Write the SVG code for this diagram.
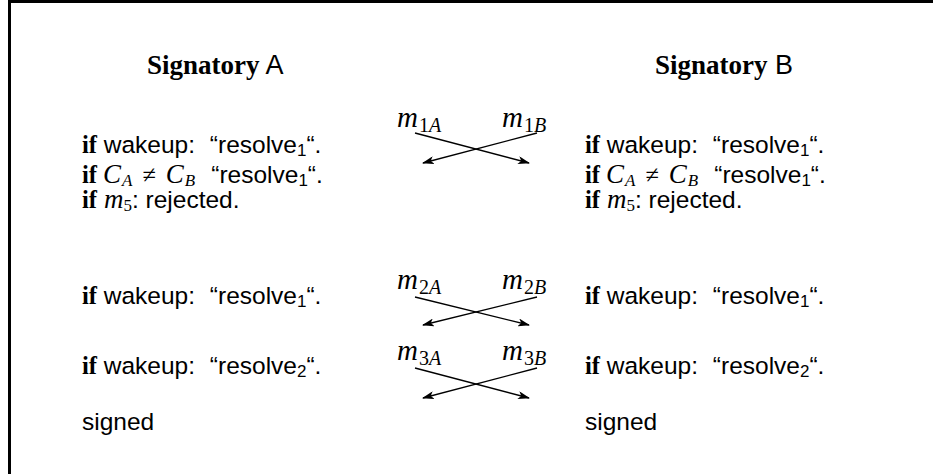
<svg xmlns="http://www.w3.org/2000/svg" width="933" height="474" viewBox="0 0 933 474">
<defs>
<style>
.t{font-family:"Liberation Sans","DejaVu Sans",sans-serif;font-size:24.5px;fill:#000}
.h{font-size:27px}
.kw{font-family:"Liberation Serif",serif;font-weight:bold}
.mi{font-family:"Liberation Serif",serif;font-style:italic;font-size:27px}
.rm{font-family:"Liberation Serif",serif;font-style:normal}
.sub{font-size:17px}
.ml{font-family:"Liberation Serif",serif;font-style:italic;font-size:29px;fill:#000}
.ms{font-size:20px}
.frame{fill:none;stroke:#000;stroke-width:3}
.conn line{stroke:#000;stroke-width:1.3;marker-end:url(#ah)}
</style>
<marker id="ah" viewBox="0 0 12 8" refX="11" refY="4" markerWidth="12" markerHeight="8" markerUnits="userSpaceOnUse" orient="auto">
<path d="M0,0 L12,4 L0,8 L3,4 Z" fill="#000"/>
</marker>
</defs>
<rect width="933" height="474" fill="#fff"/>
<path class="frame" d="M9.5,474 V1.5 H933"/>

<g id="signatoryA">
<text class="t h" x="147" y="74"><tspan class="kw">Signatory</tspan> A</text>
<text class="t" x="82" y="153"><tspan class="kw">if</tspan> wakeup:<tspan dx="8"> “resolve</tspan><tspan class="sub" dy="3">1</tspan><tspan dy="-3">“.</tspan></text>
<text class="t" x="82" y="183"><tspan class="kw">if</tspan><tspan class="mi" dx="6">C</tspan><tspan class="mi sub" dy="3" dx="1">A</tspan><tspan class="rm" dy="-3" dx="10">≠</tspan><tspan class="mi" dx="10">C</tspan><tspan class="mi sub" dy="3" dx="1">B</tspan><tspan dy="-3" dx="16">“resolve</tspan><tspan class="sub" dy="3">1</tspan><tspan dy="-3">“.</tspan></text>
<text class="t" x="82" y="208"><tspan class="kw">if</tspan><tspan class="mi" dx="7">m</tspan><tspan class="rm sub" dy="3">5</tspan><tspan dy="-3">: rejected.</tspan></text>
<text class="t" x="82" y="304"><tspan class="kw">if</tspan> wakeup:<tspan dx="8"> “resolve</tspan><tspan class="sub" dy="3">1</tspan><tspan dy="-3">“.</tspan></text>
<text class="t" x="82" y="374"><tspan class="kw">if</tspan> wakeup:<tspan dx="8"> “resolve</tspan><tspan class="sub" dy="3">2</tspan><tspan dy="-3">“.</tspan></text>
<text class="t" x="82" y="430">signed</text>
</g>

<g id="signatoryB">
<text class="t h" x="655" y="74"><tspan class="kw">Signatory</tspan> B</text>
<text class="t" x="585" y="153"><tspan class="kw">if</tspan> wakeup:<tspan dx="8"> “resolve</tspan><tspan class="sub" dy="3">1</tspan><tspan dy="-3">“.</tspan></text>
<text class="t" x="585" y="183"><tspan class="kw">if</tspan><tspan class="mi" dx="6">C</tspan><tspan class="mi sub" dy="3" dx="1">A</tspan><tspan class="rm" dy="-3" dx="10">≠</tspan><tspan class="mi" dx="10">C</tspan><tspan class="mi sub" dy="3" dx="1">B</tspan><tspan dy="-3" dx="16">“resolve</tspan><tspan class="sub" dy="3">1</tspan><tspan dy="-3">“.</tspan></text>
<text class="t" x="585" y="208"><tspan class="kw">if</tspan><tspan class="mi" dx="7">m</tspan><tspan class="rm sub" dy="3">5</tspan><tspan dy="-3">: rejected.</tspan></text>
<text class="t" x="585" y="304"><tspan class="kw">if</tspan> wakeup:<tspan dx="8"> “resolve</tspan><tspan class="sub" dy="3">1</tspan><tspan dy="-3">“.</tspan></text>
<text class="t" x="585" y="374"><tspan class="kw">if</tspan> wakeup:<tspan dx="8"> “resolve</tspan><tspan class="sub" dy="3">2</tspan><tspan dy="-3">“.</tspan></text>
<text class="t" x="585" y="430">signed</text>
</g>

<g id="labels">
<text class="ml" x="397" y="127">m<tspan class="rm ms" dy="5" dx="1">1</tspan><tspan class="ms">A</tspan></text>
<text class="ml" x="502" y="127">m<tspan class="rm ms" dy="5" dx="1">1</tspan><tspan class="ms">B</tspan></text>
<text class="ml" x="397" y="289">m<tspan class="rm ms" dy="5" dx="1">2</tspan><tspan class="ms">A</tspan></text>
<text class="ml" x="502" y="289">m<tspan class="rm ms" dy="5" dx="1">2</tspan><tspan class="ms">B</tspan></text>
<text class="ml" x="397" y="360">m<tspan class="rm ms" dy="5" dx="1">3</tspan><tspan class="ms">A</tspan></text>
<text class="ml" x="502" y="360">m<tspan class="rm ms" dy="5" dx="1">3</tspan><tspan class="ms">B</tspan></text>
</g>

<g id="connectors" class="conn">
<line x1="415" y1="133" x2="529" y2="163"/>
<line x1="537" y1="133" x2="423" y2="163"/>
<line x1="415" y1="297" x2="529" y2="325"/>
<line x1="537" y1="297" x2="423" y2="325"/>
<line x1="415" y1="368" x2="529" y2="398"/>
<line x1="537" y1="368" x2="423" y2="398"/>
</g>
</svg>
